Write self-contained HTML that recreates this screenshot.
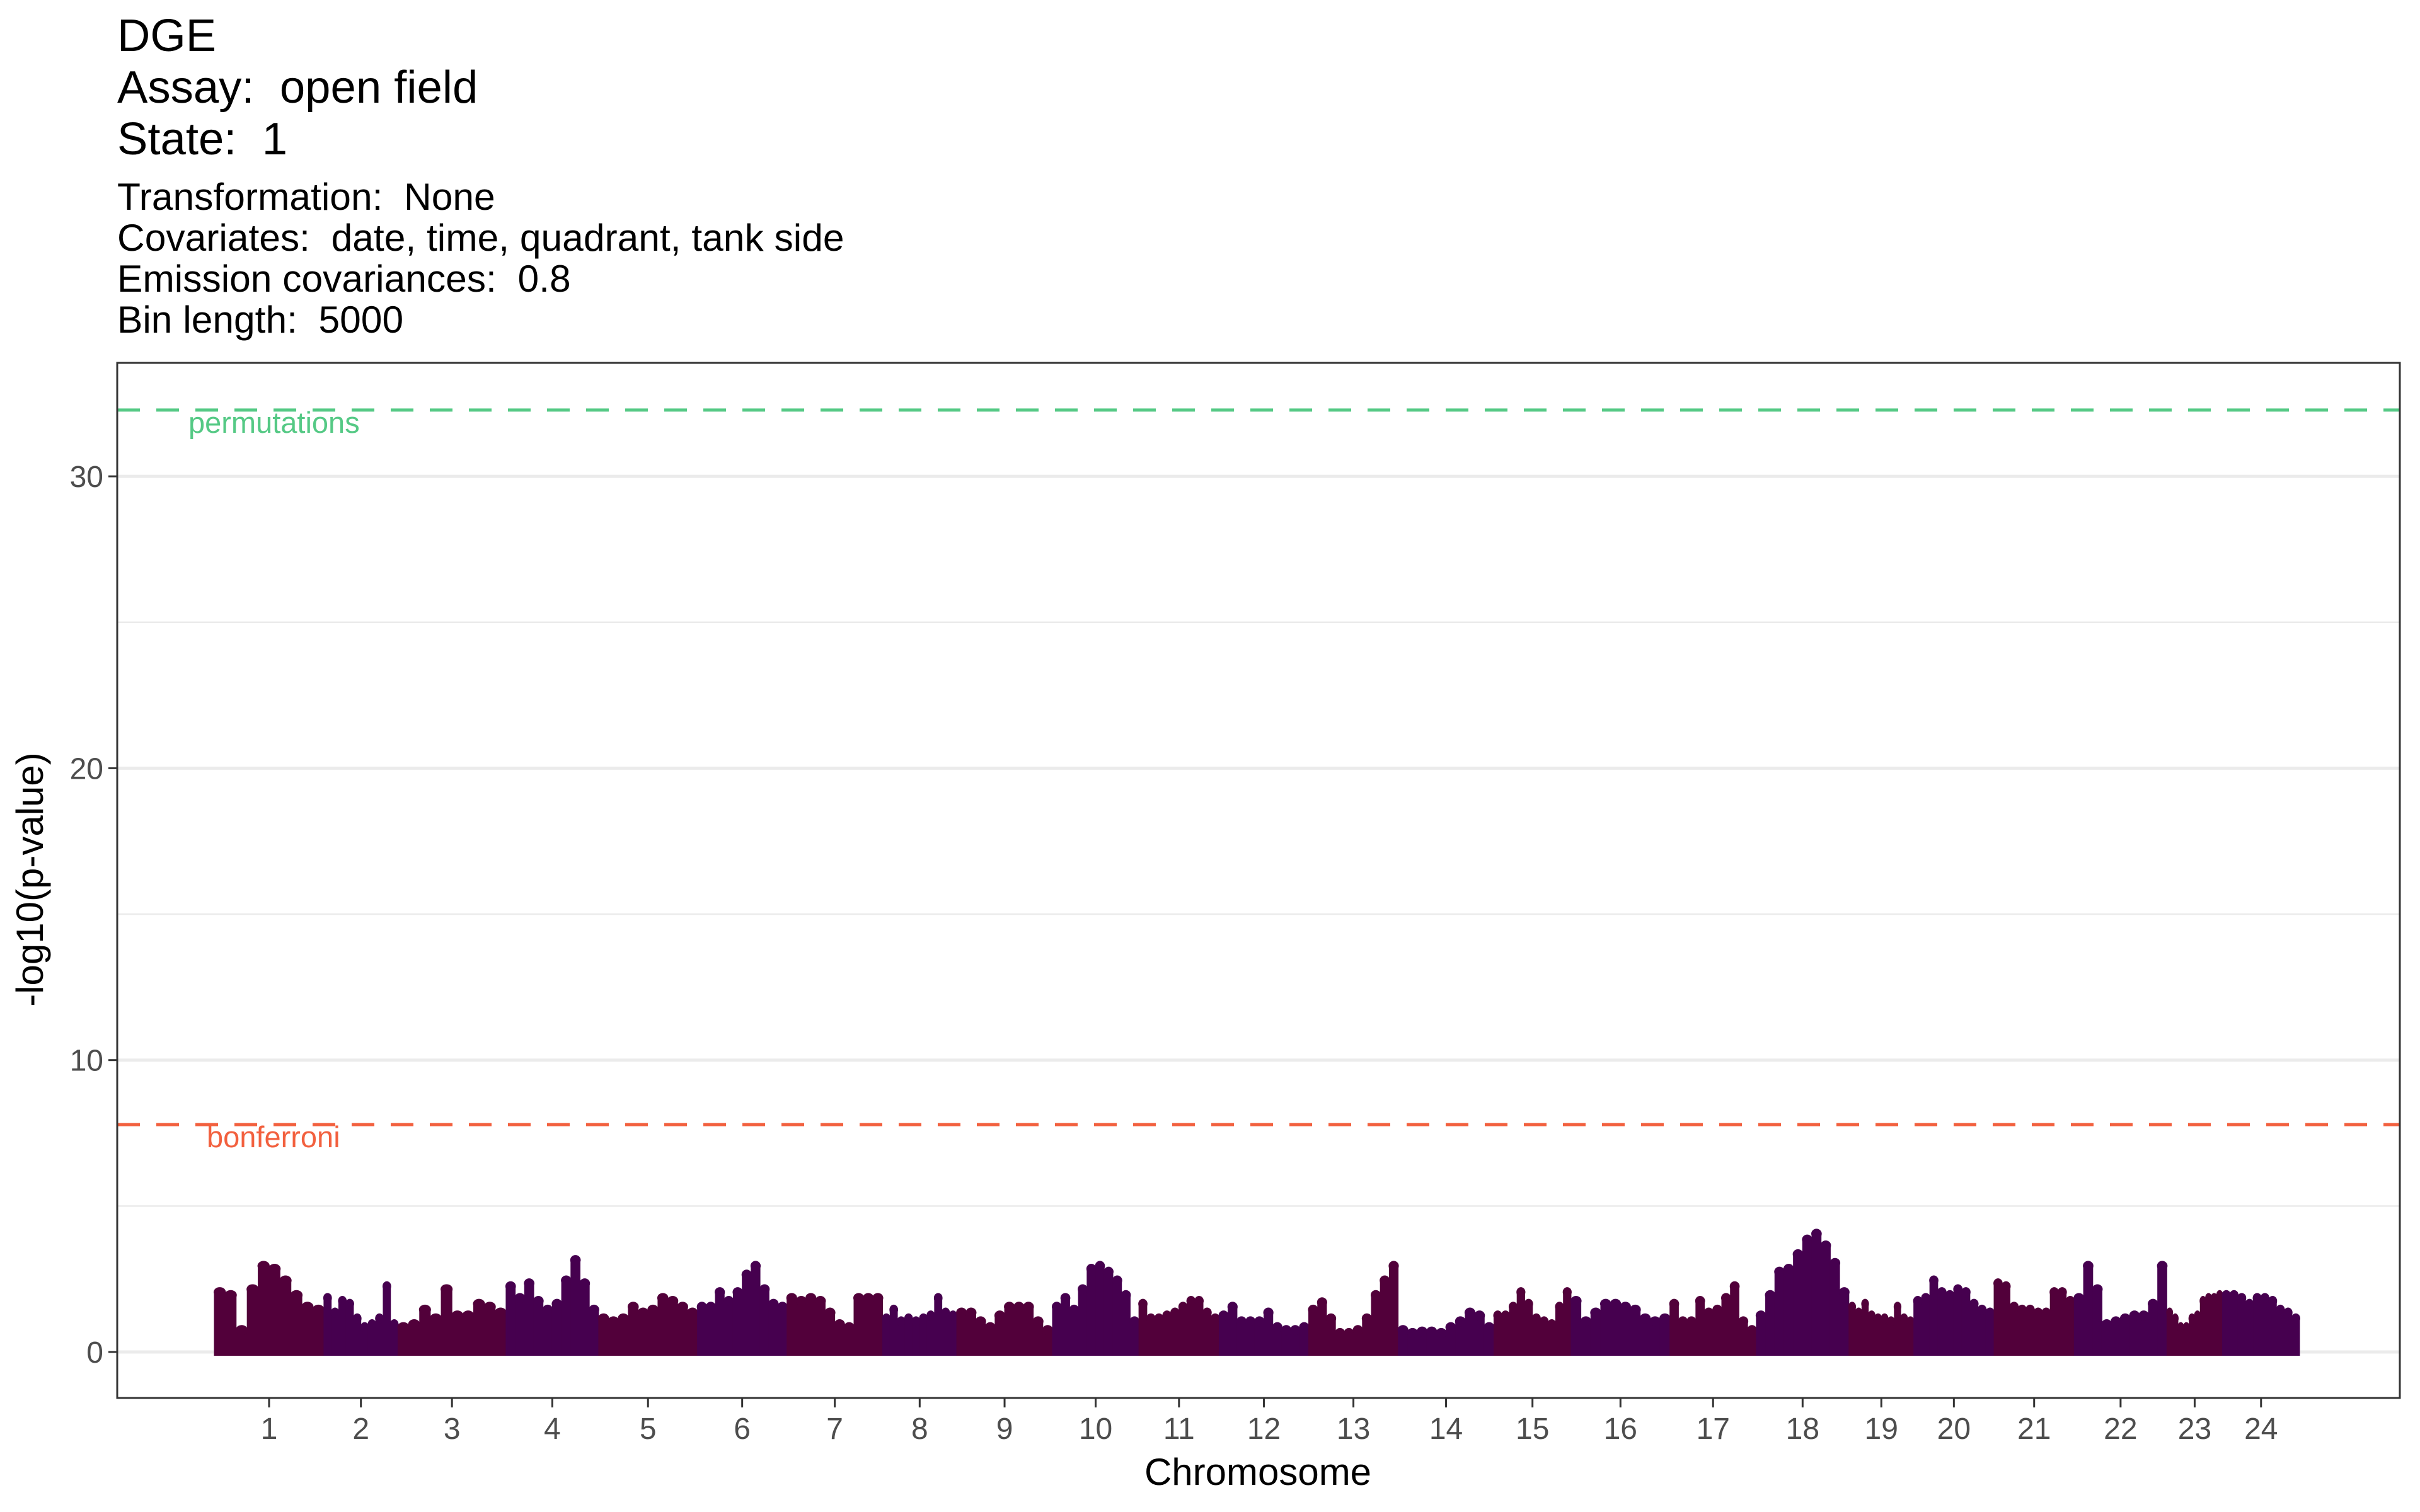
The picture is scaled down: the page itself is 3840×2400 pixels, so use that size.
<!DOCTYPE html>
<html><head><meta charset="utf-8"><style>
html,body{margin:0;padding:0;background:#fff;}
svg{display:block;font-family:"Liberation Sans",sans-serif;}
text{white-space:pre;}
</style></head><body>
<svg id="chart" width="3840" height="2400" viewBox="0 0 3840 2400" xmlns="http://www.w3.org/2000/svg">
<rect width="3840" height="2400" fill="#fff"/>
<g font-size="72.5" fill="#000">
<text x="186" y="81">DGE</text>
<text x="186" y="163" xml:space="preserve">Assay:  open field</text>
<text x="186" y="245" xml:space="preserve">State:  1</text>
</g>
<g font-size="60.5" fill="#000">
<text x="186" y="333" xml:space="preserve">Transformation:  None</text>
<text x="186" y="398" xml:space="preserve">Covariates:  date, time, quadrant, tank side</text>
<text x="186" y="463" xml:space="preserve">Emission covariances:  0.8</text>
<text x="186" y="528" xml:space="preserve">Bin length:  5000</text>
</g>
<g id="grid"></g>
<g id="marks"></g>
<g id="thr"></g>
<rect x="186" y="576" width="3622" height="1643" fill="none" stroke="#333" stroke-width="3"/>
<g id="axes"></g>
<text x="1996" y="2357" text-anchor="middle" font-size="60" fill="#000">Chromosome</text>
<text transform="translate(68,1396) rotate(-90)" text-anchor="middle" font-size="60" fill="#000">-log10(p-value)</text>
</svg>
<script>
const chromLabels=["1","2","3","4","5","6","7","8","9","10","11","12","13","14","15","16","17","18","19","20","21","22","23","24"];
const chromLengths=[71,48,70,60,64,58,62,48,62,56,52,58,58,62,50,64,56,60,42,52,52,60,36,50];
const yTicks=[0,10,20,30];
const yMinor=[5,15,25];
const thresholdNames=["permutations","bonferroni"];
const thresholdValues=[32.27,7.79];
const c1=[2.2,2.1,0.9,2.3,3.1,3.0,2.6,2.1,1.7,1.6];
const c2=[2.0,1.5,1.9,1.8,1.3,1.0,1.1,1.3,2.4,1.1];
const c3=[1.0,1.1,1.6,1.3,2.3,1.4,1.4,1.8,1.7,1.5];
const c4=[2.4,2.0,2.5,1.9,1.6,1.8,2.6,3.3,2.5,1.6];
const c5=[1.3,1.2,1.3,1.7,1.5,1.6,2.0,1.9,1.7,1.5];
const c6=[1.7,1.7,2.2,1.9,2.2,2.8,3.1,2.3,1.8,1.7];
const c7=[2.0,1.9,2.0,1.9,1.5,1.1,1.0,2.0,2.0,2.0];
const c8=[1.3,1.6,1.2,1.3,1.2,1.3,1.4,2.0,1.5,1.4];
const c9=[1.5,1.5,1.2,1.0,1.4,1.7,1.7,1.7,1.2,0.9];
const c10=[1.7,2.0,1.6,2.3,3.0,3.1,2.9,2.6,2.1,1.2];
const c11=[1.8,1.3,1.3,1.4,1.5,1.7,1.9,1.9,1.5,1.3];
const c12=[1.4,1.7,1.2,1.2,1.2,1.5,1.0,0.9,0.9,1.0];
const c13=[1.6,1.85,1.3,0.8,0.8,0.9,1.3,2.1,2.6,3.1];
const c14=[0.9,0.8,0.85,0.85,0.8,1.0,1.2,1.5,1.4,1.0];
const c15=[1.4,1.4,1.7,2.2,1.8,1.3,1.2,1.1,1.7,2.2];
const c16=[1.9,1.2,1.5,1.8,1.8,1.7,1.6,1.3,1.2,1.3];
const c17=[1.8,1.2,1.2,1.9,1.5,1.6,2.0,2.4,1.2,0.9];
const c18=[1.4,2.1,2.9,3.0,3.5,4.0,4.2,3.8,3.2,2.2];
const c19=[1.7,1.5,1.8,1.4,1.3,1.3,1.2,1.7,1.3,1.2];
const c20=[1.9,2.0,2.6,2.2,2.1,2.3,2.2,1.8,1.6,1.5];
const c21=[2.5,2.4,1.7,1.6,1.6,1.5,1.5,2.2,2.2,1.9];
const c22=[2.0,3.1,2.3,1.1,1.2,1.3,1.4,1.4,1.8,3.1];
const c23=[1.5,1.3,1.0,1.0,1.3,1.4,1.9,2.0,2.0,2.1];
const c24=[2.1,2.1,2.0,1.8,2.0,2.0,1.9,1.6,1.5,1.3];
const chromValues=[c1,c2,c3,c4,c5,c6,c7,c8,c9,c10,c11,c12,c13,c14,c15,c16,c17,c18,c19,c20,c21,c22,c23,c24];

const NS="http://www.w3.org/2000/svg";
const PL=186,PR=3808,PT=576,PB=2219;
const total=chromLengths.reduce((a,b)=>a+b,0);
const X0=340,X1=3649;
function xs(v){return X0+v/total*(X1-X0);}
function ys(v){return 2146-v*46.33;}
function mk(tag,attrs,parent){const e=document.createElementNS(NS,tag);for(const k in attrs)e.setAttribute(k,attrs[k]);parent.appendChild(e);return e;}
const grid=document.getElementById('grid'),marks=document.getElementById('marks'),thr=document.getElementById('thr'),axes=document.getElementById('axes');
yMinor.forEach(v=>{const l=mk('line',{x1:PL,x2:PR,y1:ys(v),y2:ys(v),stroke:'#ebebeb','stroke-width':2.5},grid);

});
yTicks.forEach(v=>{const l=mk('line',{x1:PL,x2:PR,y1:ys(v),y2:ys(v),stroke:'#ebebeb','stroke-width':5},grid);


const t=mk('line',{x1:PL-14,x2:PL,y1:ys(v),y2:ys(v),stroke:'#333','stroke-width':3},axes);


const tx=mk('text',{x:PL-22,y:ys(v)+17,'text-anchor':'end','font-size':48,fill:'#4d4d4d'},axes);
tx.textContent=v;

});
const colors=['#52003a','#46004f'];
let cum=0;
chromValues.forEach((vals,ci)=>{
  const g=mk('g',{fill:colors[ci%2]},marks);
  
  
  const start=cum,len=chromLengths[ci],bw=len/vals.length;
  vals.forEach((v,i)=>{
    const xa=xs(start+i*bw),xb=xs(start+(i+1)*bw);
    const top=ys(v);
    const r=mk('rect',{x:xa-0.5,y:top+6,width:xb-xa+1,height:ys(-0.13)-top-6},g);
    
    
    const c=mk('ellipse',{cx:(xa+xb)/2,cy:top+7,rx:(xb-xa)/2+1,ry:8},g);
    
    
  });
  const cx=xs(start+len/2);
  const t=mk('line',{x1:cx,x2:cx,y1:PB,y2:PB+15,stroke:'#333','stroke-width':3},axes);
  
  
  const tx=mk('text',{x:cx,y:2284,'text-anchor':'middle','font-size':48,fill:'#4d4d4d'},axes);
  tx.textContent=chromLabels[ci];
  
  
  cum+=len;
});
const thrColors=['#55c985','#f2603e'];
const thrLabelX=[299,328];
thresholdValues.forEach((v,i)=>{
  const l=mk('line',{x1:PL,x2:PR,y1:ys(v),y2:ys(v),stroke:thrColors[i],'stroke-width':5,'stroke-dasharray':'36 26'},thr);
  
  
  const t=mk('text',{x:thrLabelX[i],y:ys(v)+36,'font-size':47,fill:thrColors[i]},thr);
  t.textContent=thresholdNames[i];
  
  
});
</script>
</body></html>
